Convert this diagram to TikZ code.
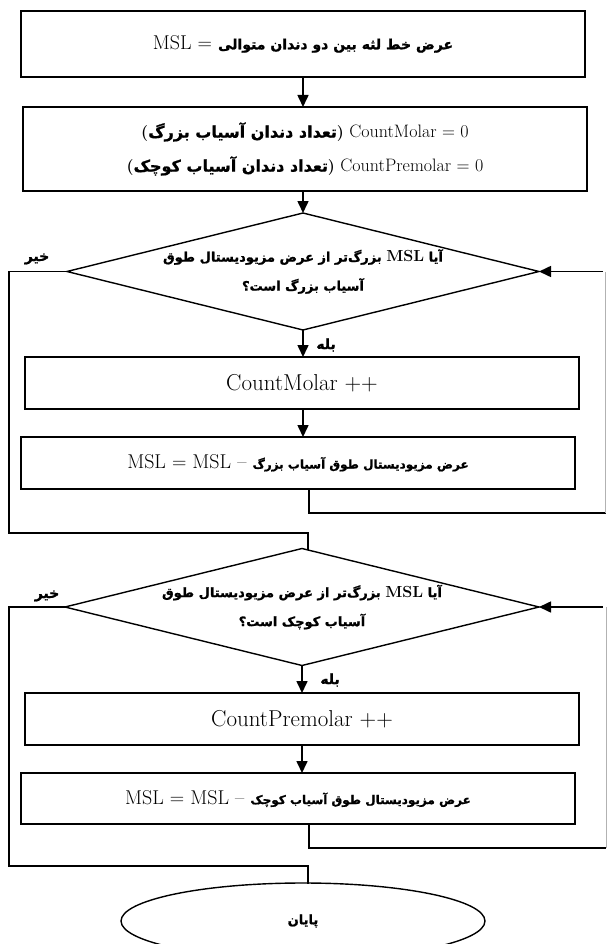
\documentclass[tikz,border=0pt]{standalone}
\usepackage{fontspec}
\usetikzlibrary{shapes.geometric,arrows.meta}
\TeXXeTstate=1
\newfontfamily\fa[Script=Arabic, BoldFeatures={FakeBold=1.2}]{DejaVu Sans}
\newcommand\fab[1]{{\fa\bfseries\beginR #1\endR}}
\tikzset{
  every node/.style={inner sep=0pt, outer sep=0pt},
  box/.style={draw, line width=1.7pt, rectangle, align=center},
  dia/.style={draw, line width=1.4pt, diamond, aspect=4.03, align=center, font=\fontsize{13}{29}\selectfont},
  con/.style={line width=1.6pt},
  arr/.style={con, -{Triangle[length=12pt,width=11pt]}},
  lbl/.style={font=\fontsize{14}{14}\selectfont},
}
\begin{document}
\begin{tikzpicture}[x=1pt,y=-1pt]
\useasboundingbox[fill=white] (0,0) rectangle (606,944);

% boxes
\node[box, minimum width=564pt, minimum height=66pt, font=\fontsize{20}{20}\selectfont] (b1) at (303,44)
  {MSL = {\fontsize{14}{14}\selectfont\fab{عرض خط لثه بین دو دندان متوالی}}};
\node[box, minimum width=564pt, minimum height=84pt, font=\fontsize{18}{34}\selectfont] (b2) at (305,149)
  {{\fontsize{16}{16}\selectfont\bfseries(\fab{تعداد دندان آسیاب بزرگ})} CountMolar = 0\\
   {\fontsize{16}{16}\selectfont\bfseries(\fab{تعداد دندان آسیاب کوچک})} CountPremolar = 0};

\node[dia, minimum width=472pt, minimum height=117pt] (d1) at (303,271.5)
  {{\fa\bfseries\beginR آیا \beginL{\rmfamily\bfseries\fontsize{16}{16}\selectfont MSL}\endL{} بزرگ‌تر از عرض مزیودیستال طوق\endR}\\
   \fab{آسیاب بزرگ است؟}};

\node[box, minimum width=554pt, minimum height=52pt, font=\fontsize{23}{23}\selectfont] (b3) at (302,383)
  {CountMolar ++};
\node[box, minimum width=554pt, minimum height=52pt, font=\fontsize{20}{20}\selectfont] (b4) at (298,463)
  {MSL = MSL – {\fontsize{12}{12}\selectfont\fab{عرض مزیودیستال طوق آسیاب بزرگ}}};

\node[dia, minimum width=474pt, minimum height=117pt] (d2) at (302,607)
  {{\fa\bfseries\beginR آیا \beginL{\rmfamily\bfseries\fontsize{16}{16}\selectfont MSL}\endL{} بزرگ‌تر از عرض مزیودیستال طوق\endR}\\
   \fab{آسیاب کوچک است؟}};

\node[box, minimum width=554pt, minimum height=52pt, font=\fontsize{23}{23}\selectfont] (b5) at (302,719)
  {CountPremolar ++};
\node[box, minimum width=554pt, minimum height=51pt, font=\fontsize{20}{20}\selectfont] (b6) at (298,798.5)
  {MSL = MSL – {\fontsize{12}{12}\selectfont\fab{عرض مزیودیستال طوق آسیاب کوچک}}};

\node[draw, line width=1.4pt, ellipse, minimum width=364pt, minimum height=76pt, font=\fontsize{13}{13}\selectfont] (end) at (303,921)
  {\fab{پایان}};

% labels
\node[lbl] (no1) at (37,259) {\fab{خیر}};
\node[lbl] (yes1) at (326,345) {\fab{بله}};
\node[lbl] (no2) at (47,596) {\fab{خیر}};
\node[lbl] (yes2) at (330,680) {\fab{بله}};

% coordinates
\coordinate (p1) at (303,191);
\coordinate (l1a) at (9,271.5);
\coordinate (l1b) at (9,533);
\coordinate (l1c) at (308,533);
\coordinate (l1d) at (308,549.5);
\coordinate (r1a) at (309,513);
\coordinate (r1b) at (606,513);
\coordinate (r1c) at (605.3,513);
\coordinate (r1d) at (605.3,271.5);
\coordinate (r1e) at (603,271.5);
\coordinate (l2a) at (9,607);
\coordinate (l2b) at (9,866);
\coordinate (l2c) at (308,866);
\coordinate (l2d) at (308,883.5);
\coordinate (r2a) at (309,848);
\coordinate (r2b) at (606,848);
\coordinate (r2c) at (606.6,848);
\coordinate (r2d) at (606.6,607);
\coordinate (r2e) at (603,607);

% connectors
\draw[arr] (b1.south) -- (b1.south |- b2.north);
\draw[arr] (p1) -- (d1.north);
\draw[arr] (d1.south) -- (d1.south |- b3.north);
\draw[arr] (b3.south -| d1.south) -- (d1.south |- b4.north);
\draw[con] (b4.south -| r1a) -- (r1a) -- (r1b);
\draw[gray!60, line width=0.8pt] (r1c) -- (r1d);
\draw[arr] (r1e) -- (d1.east);
\draw[con] (d1.west) -- (l1a) -- (l1b) -- (l1c) -- (l1d);

\draw[arr] (d2.south) -- (d2.south |- b5.north);
\draw[arr] (b5.south -| d2.south) -- (d2.south |- b6.north);
\draw[con] (b6.south -| r2a) -- (r2a) -- (r2b);
\draw[gray!60, line width=0.8pt] (r2c) -- (r2d);
\draw[arr] (r2e) -- (d2.east);
\draw[con] (d2.west) -- (l2a) -- (l2b) -- (l2c) -- (l2d);
\end{tikzpicture}
\end{document}
